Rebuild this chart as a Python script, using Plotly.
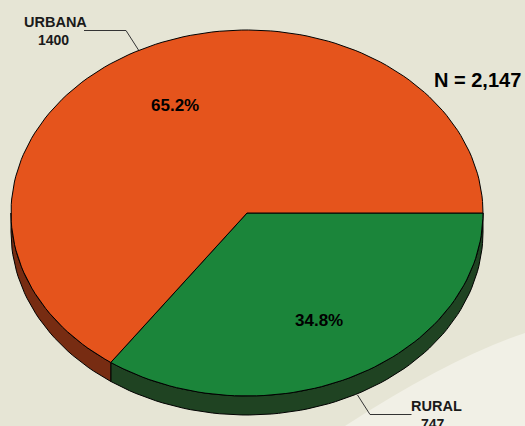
import math
import plotly.graph_objects as go

# ---- data ----
categories = ["RURAL", "URBANA"]
values = [747, 1400]
top_colors = ["#1B853A", "#E5541C"]
side_colors = ["#1F4322", "#772C12"]
total_label = "N = 2,147"

total = sum(values)

# ---- geometry of the tilted pie (pixel space) ----
W, H = 525, 426
cx, cy = 247, 213
rx, ry = 236, 183
depth = 19
N_PTS = 200


def arc(a0, a1, dy=0.0):
    n = max(2, int(abs(a1 - a0) / 360 * N_PTS) + 2)
    xs, ys = [], []
    for i in range(n):
        t = math.radians(a0 + (a1 - a0) * i / (n - 1))
        xs.append(cx + rx * math.cos(t))
        ys.append(cy + ry * math.sin(t) + dy)
    return xs, ys


fig = go.Figure()

# slice angular spans (clockwise on screen, starting at 3 o'clock)
spans = []
start = 0.0
for v in values:
    end = start + 360.0 * v / total
    spans.append((start, end))
    start = end

# sides (only the front half, 0..180 deg, is visible)
for (a0, a1), sc in zip(spans, side_colors):
    s, e = max(a0, 0.0), min(a1, 180.0)
    if e <= s:
        continue
    tx, ty = arc(s, e)
    bx, by = arc(s, e, depth)
    xs = tx + bx[::-1] + [tx[0]]
    ys = ty + by[::-1] + [ty[0]]
    fig.add_trace(go.Scatter(x=xs, y=ys, mode="lines", fill="toself",
                             fillcolor=sc, line=dict(color="#000000", width=1),
                             hoverinfo="skip", showlegend=False))

# top faces
for (a0, a1), tc in zip(spans, top_colors):
    ax, ay = arc(a0, a1)
    xs = [cx] + ax + [cx]
    ys = [cy] + ay + [cy]
    fig.add_trace(go.Scatter(x=xs, y=ys, mode="lines", fill="toself",
                             fillcolor=tc, line=dict(color="#000000", width=1),
                             hoverinfo="skip", showlegend=False))

# percentage labels
font_b = "Liberation Sans, Arial, sans-serif"
for (a0, a1), v in zip(spans, values):
    m = math.radians((a0 + a1) / 2)
    f = 0.66
    fig.add_annotation(x=cx + rx * f * math.cos(m), y=cy + ry * f * math.sin(m),
                       text="<b>%.1f%%</b>" % (v / total * 100), showarrow=False,
                       font=dict(family=font_b, size=17, color="#000000"))

# category labels with leader lines
fig.add_annotation(x=55, y=22, text="<b>URBANA</b>", showarrow=False,
                   font=dict(family=font_b, size=14.5, color="#1a1a1a"))
fig.add_annotation(x=53, y=40, text="<b>%d</b>" % values[1], showarrow=False,
                   font=dict(family=font_b, size=14, color="#1a1a1a"))
fig.add_annotation(x=436, y=405.5, text="<b>RURAL</b>", showarrow=False,
                   font=dict(family=font_b, size=14.5, color="#1a1a1a"))
fig.add_annotation(x=433, y=423.5, text="<b>%d</b>" % values[0], showarrow=False,
                   font=dict(family=font_b, size=14, color="#1a1a1a"))
fig.add_annotation(x=477.5, y=80, text="<b>%s</b>" % total_label, showarrow=False,
                   font=dict(family=font_b, size=20, color="#000000"))

fig.add_shape(type="path", path="M 84,30.5 L 126,30.5 L 138.5,50",
              line=dict(color="#333333", width=1), layer="above")
fig.add_shape(type="path", path="M 357.5,395 L 370,414.5 L 411.5,414.5",
              line=dict(color="#333333", width=1), layer="above")

# background light swoosh
fig.add_shape(type="path", path="M 525,333 Q 450,358 345,426 L 525,426 Z",
              fillcolor="#F1F0E6", line=dict(width=0), layer="below")

fig.update_layout(
    width=W, height=H,
    margin=dict(l=0, r=0, t=0, b=0),
    paper_bgcolor="#E6E5D5", plot_bgcolor="#E6E5D5",
    xaxis=dict(range=[0, W], visible=False, fixedrange=True),
    yaxis=dict(range=[H, 0], visible=False, fixedrange=True),
    showlegend=False,
)

fig.write_html(
    "out.html",
    config={"displayModeBar": False},
    post_script="document.body.style.margin='0';document.body.style.overflow='hidden';",
)
